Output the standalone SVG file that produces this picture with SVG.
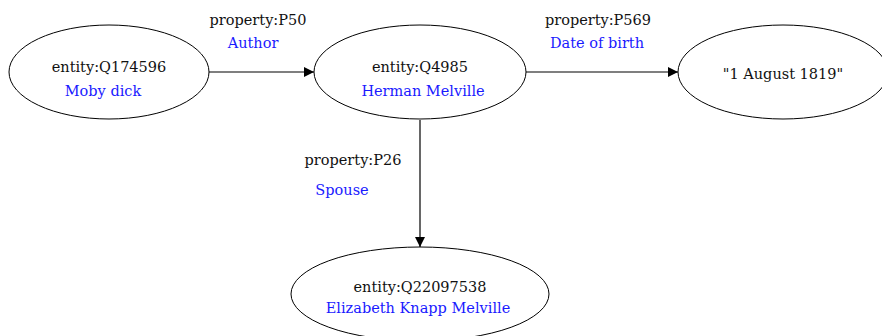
<svg xmlns="http://www.w3.org/2000/svg" width="882" height="336" viewBox="0 0 882 336">
  <style>
    .node ellipse { fill: #ffffff; stroke: #000000; stroke-width: 1; }
    text { font-family: "DejaVu Serif", "Liberation Serif", serif; font-size: 14.5px; text-anchor: middle; }
    .id { fill: #111111; }
    .lbl { fill: #1a1aff; }
    .edge { stroke: #000000; stroke-width: 1.2; fill: none; marker-end: url(#arrow); }
  </style>
  <defs>
    <marker id="arrow" viewBox="0 0 10 10" refX="10" refY="5" markerWidth="10" markerHeight="10" markerUnits="userSpaceOnUse" orient="auto">
      <path d="M0,0 L10,5 L0,10 Z" fill="#000000"/>
    </marker>
  </defs>
  <rect width="882" height="336" fill="#ffffff"/>

  <g id="connectors">
    <line class="edge" x1="209" y1="72" x2="314" y2="72"/>
    <line class="edge" x1="526" y1="72" x2="678" y2="72"/>
    <line class="edge" x1="420" y1="120" x2="420" y2="247"/>
    <text class="id" x="258" y="25">property:P50</text>
    <text class="lbl" x="253" y="48">Author</text>
    <text class="id" x="598" y="25">property:P569</text>
    <text class="lbl" x="597" y="48">Date of birth</text>
    <text class="id" x="353" y="165">property:P26</text>
    <text class="lbl" x="342" y="195">Spouse</text>
  </g>

  <g id="moby-dick" class="node">
    <ellipse cx="109" cy="72" rx="100" ry="47"/>
    <text class="id" x="109" y="72">entity:Q174596</text>
    <text class="lbl" x="103" y="96">Moby dick</text>
  </g>

  <g id="herman-melville" class="node">
    <ellipse cx="420" cy="72" rx="106" ry="47"/>
    <text class="id" x="420" y="72">entity:Q4985</text>
    <text class="lbl" x="423" y="96">Herman Melville</text>
  </g>

  <g id="birth-date" class="node">
    <ellipse cx="783" cy="72" rx="105" ry="47"/>
    <text class="id" x="783" y="79">"1 August 1819"</text>
  </g>

  <g id="elizabeth-knapp-melville" class="node">
    <ellipse cx="420" cy="294" rx="129" ry="47"/>
    <text class="id" x="420" y="292">entity:Q22097538</text>
    <text class="lbl" x="418" y="313">Elizabeth Knapp Melville</text>
  </g>
</svg>
